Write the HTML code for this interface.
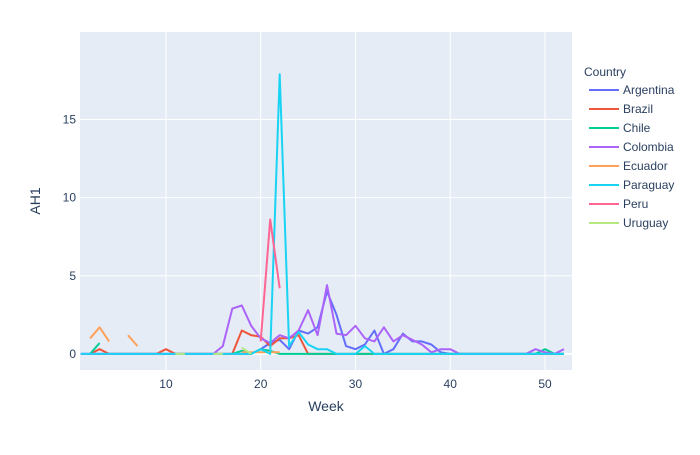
<!DOCTYPE html>
<html><head><meta charset="utf-8"><style>
body{margin:0;background:#fff;font-family:"Liberation Sans",Arial,sans-serif}
svg text{font-family:"Liberation Sans",Arial,sans-serif}
</style></head><body>
<svg id="chart" width="700" height="450">
<rect x="0" y="0" width="700" height="450" fill="#fff"/>
<rect x="80" y="32" width="492" height="338" fill="#e5ecf6"/>
<g id="grid"></g><g id="series"></g><g id="ticks"></g>
<text x="326" y="411" text-anchor="middle" font-size="14" fill="#2a3f5f">Week</text>
<text transform="translate(40,201) rotate(-90)" text-anchor="middle" font-size="14" fill="#2a3f5f">AH1</text>
<text x="584" y="76" font-size="12" fill="#2a3f5f">Country</text>
<g id="legend"></g>
</svg>
<script>
const countries=["Argentina","Brazil","Chile","Colombia","Ecuador","Paraguay","Peru","Uruguay"];
const colors=["#636efa","#EF553B","#00cc96","#ab63fa","#FFA15A","#19d3f3","#FF6692","#B6E880"];
const weeks=Array.from({length:52},(_,i)=>i+1);
const N=null;
const argentina=[0,0,0,0,0,0,0,0,0,0,0,0,0,0,0,0,0,0,0,0.3,0.7,0.9,0.3,1.5,1.3,1.7,4.0,2.5,0.5,0.3,0.6,1.5,0,0.3,1.3,0.8,0.8,0.6,0.1,0,0,0,0,0,0,0,0,0,0,0,0,0];
const brazil=[N,0,0.3,0,0,0,0,0,0,0.3,0,0,0,0,0,0,0,1.5,1.2,1.1,0.5,1.0,1.0,1.2,0,0,0,0,0,0,0,0,0,0,0,0,0,0,0,0,0,0,0,0,0,0,0,0,0,0,0,0];
const chile=[N,0,0.7,N,N,N,N,N,N,N,N,N,N,N,N,N,0,0.2,0,0.3,0.2,0,0,0,0,0,0,0,0,0,0,0,0,0,0,0,0,0,0,0,0,0,0,0,0,0,0,0,0,0.3,0,0];
const colombia=[0,0,0,0,0,0,0,0,0,0,0,0,0,0,0,0.5,2.9,3.1,1.8,1.0,0.7,1.2,1.0,1.5,2.8,1.2,4.4,1.3,1.2,1.8,1.0,0.8,1.7,0.8,1.2,0.9,0.6,0.1,0.3,0.3,0,0,0,0,0,0,0,0,0.3,0.1,0,0.3];
const ecuador=[N,1.0,1.7,0.8,N,1.2,0.5,N,N,N,N,N,N,N,N,N,N,0.1,0.1,0.1,0.1,0.1,N,N,N,N,N,N,N,N,N,N,N,N,N,N,N,N,N,N,N,N,N,N,N,N,N,N,N,N,N,N];
const paraguay=[0,0,0,0,0,0,0,0,0,0,0,0,0,0,0,0,0,0,0,0.3,0,17.9,0.5,1.4,0.6,0.3,0.3,0,0,0,0.5,0,0,0,0,0,0,0,0,0,0,0,0,0,0,0,0,0,0,0,0,0];
const peru=[N,N,N,N,N,N,N,N,N,N,N,N,N,N,N,N,N,N,N,0.8,8.6,4.2,N,N,N,N,N,N,N,N,N,N,N,N,N,N,N,N,N,N,N,N,N,N,N,N,N,N,N,N,N,N];
const uruguay=[N,N,N,N,N,N,N,N,N,N,0,0,N,N,0,0,N,0.4,0,N,N,N,N,N,N,N,N,N,N,N,N,N,N,N,N,N,N,N,N,N,N,N,N,N,N,N,N,N,N,N,N,N];
const seriesValues=[argentina,brazil,chile,colombia,ecuador,paraguay,peru,uruguay];
const xTicks=[10,20,30,40,50];
const yTicks=[0,5,10,15];
const NS="http://www.w3.org/2000/svg";
const X0=80,X1=572,Y0=370,Y1=32,xmin=0.93,xmax=52.85,ymin=-1.03,ymax=20.6;
const xs=v=>X0+(v-xmin)/(xmax-xmin)*(X1-X0);
const ys=v=>Y0-(v-ymin)/(ymax-ymin)*(Y0-Y1);
function mk(t,a,p){const e=document.createElementNS(NS,t);for(const k in a)e.setAttribute(k,a[k]);p.appendChild(e);return e;}
const grid=document.getElementById('grid'),ticks=document.getElementById('ticks');
xTicks.forEach(t=>{const l=mk('line',{x1:xs(t),x2:xs(t),y1:Y1,y2:Y0,stroke:'#fff','stroke-width':1},grid);


const tx=mk('text',{x:xs(t),y:388,'text-anchor':'middle','font-size':12,fill:'#2a3f5f'},ticks);tx.textContent=t;

});
yTicks.forEach(t=>{const l=mk('line',{x1:X0,x2:X1,y1:ys(t),y2:ys(t),stroke:'#fff','stroke-width':t===0?2:1},grid);


const tx=mk('text',{x:76,y:ys(t)+4,'text-anchor':'end','font-size':12,fill:'#2a3f5f'},ticks);tx.textContent=t;

});
const sg=document.getElementById('series');
seriesValues.forEach((vals,si)=>{let d='',pen=false;
vals.forEach((v,i)=>{if(v===null){pen=false;return;}d+=(pen?'L':'M')+xs(weeks[i]).toFixed(1)+','+ys(v).toFixed(1);pen=true;});
const p=mk('path',{d:d,fill:'none',stroke:colors[si],'stroke-width':2,'stroke-linejoin':'round'},sg);

});
const lg=document.getElementById('legend');
countries.forEach((c,i)=>{const y=90+i*19;const g=mk('g',{},lg);


mk('line',{x1:589,x2:619,y1:y,y2:y,stroke:colors[i],'stroke-width':2},g);
const t=mk('text',{x:623,y:y+4,'font-size':12,fill:'#2a3f5f'},g);t.textContent=c;});
</script>
</body></html>
